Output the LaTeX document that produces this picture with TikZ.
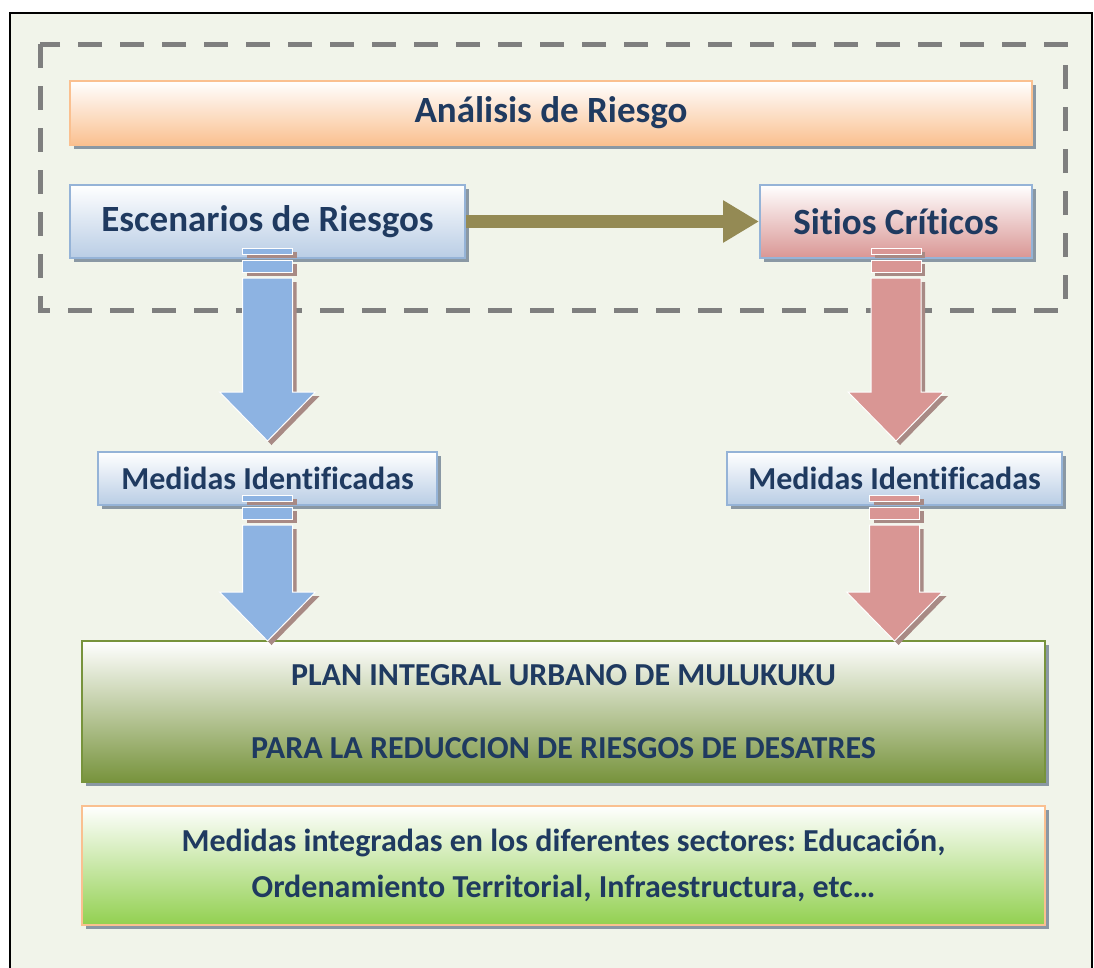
\documentclass[tikz,border=0pt]{standalone}
\usepackage{fontspec}
\setmainfont{Carlito}[Ligatures=NoCommon]
\usetikzlibrary{calc,shadows,arrows.meta}
\definecolor{pagebg}{HTML}{F1F4EA}
\definecolor{dashgray}{HTML}{7F7F7F}
\definecolor{txtblue}{HTML}{1F3A60}
\definecolor{orangebox}{HTML}{FAC090}
\definecolor{bluebox}{HTML}{B9CDE5}
\definecolor{blueedge}{HTML}{95B3D7}
\definecolor{pinkbox}{HTML}{D99694}
\definecolor{oliveline}{HTML}{948A54}
\definecolor{bluearrow}{HTML}{8DB3E2}
\definecolor{arrowshadow}{HTML}{A88A85}
\definecolor{boxshadow}{HTML}{8A98A4}
\definecolor{planedge}{HTML}{77933C}
\definecolor{greenbox}{HTML}{92D050}
\frenchspacing

% body of one block arrow, from node #1 down to the tip (T)
\newcommand{\arrowbody}[2]{%
\filldraw[#2] ($(#1.south)+(-25,-11)$) rectangle ($(#1.south)+(25,-5)$);
\filldraw[#2] ($(#1.south)+(-25,1)$) rectangle ($(#1.south)+(25,13)$);
\filldraw[#2] ($(#1.south)+(-25,19)$) -- ($(T)+(-25,-49)$) -- ($(T)+(-48,-49)$) -- (T)
  -- ($(T)+(48,-49)$) -- ($(T)+(25,-49)$) -- ($(#1.south)+(25,19)$) -- cycle;
}
% from, to, tip offset, colour
\newcommand{\bigarrow}[4]{%
\coordinate (T) at ($(#1.south |- #2.north)+(0,#3)$);
\begin{scope}[transform canvas={xshift=4pt,yshift=-4pt}]
\arrowbody{#1}{fill=arrowshadow,draw=none}
\end{scope}
\arrowbody{#1}{fill=#4,draw=white,line width=1}
}

\begin{document}
\begin{tikzpicture}[x=1pt,y=-1pt]
\tikzstyle{box}=[draw, line width=2, inner sep=0, align=center, text=txtblue,
  font=\bfseries, drop shadow={shadow xshift=4pt, shadow yshift=-4pt, fill=boxshadow, opacity=1}];
\tikzstyle{bigfont}=[font=\fontsize{37}{42}\selectfont\bfseries];
\tikzstyle{midfont}=[font=\fontsize{32}{36}\selectfont\bfseries];
\useasboundingbox (0,0) rectangle (1094,967);
\draw[line width=2, fill=pagebg] (10,13) rectangle (1092,990);
\draw[dashgray, line width=5, dash pattern=on 24pt off 18pt] (40,44) rectangle (1065,310);

\node [box, bigfont, draw=orangebox, top color=white, bottom color=orangebox,
  minimum width=962, minimum height=64] (ana) at (551,113) {Análisis de Riesgo};
\node [box, bigfont, draw=blueedge, top color=white, bottom color=bluebox,
  minimum width=395, minimum height=73] (esc) at (267.5,221.5) {Escenarios de Riesgos};
\node [box, bigfont, draw=blueedge, top color=white, bottom color=pinkbox,
  minimum width=272, minimum height=73] (sit) at (896,221.5) {Sitios Críticos};
\node [box, midfont, draw=blueedge, top color=white, bottom color=bluebox,
  minimum width=339, minimum height=53] (med1) at (267.5,478.5) {Medidas Identificadas};
\node [box, midfont, draw=blueedge, top color=white, bottom color=bluebox,
  minimum width=335, minimum height=53] (med2) at (894.5,478.5) {Medidas Identificadas};
\node [box, font=\fontsize{32}{73}\selectfont\bfseries, draw=planedge, top color=white,
  middle color=planedge!45!white, bottom color=planedge,
  minimum width=963, minimum height=141] (plan) at (563.5,711.5)
  {PLAN INTEGRAL URBANO DE MULUKUKU\\PARA LA REDUCCION DE RIESGOS DE DESATRES};
\node [box, font=\fontsize{32}{46}\selectfont\bfseries, draw=orangebox, top color=white,
  bottom color=greenbox, minimum width=963, minimum height=119] (sect) at (563.5,865.5)
  {Medidas integradas en los diferentes sectores: Educación,\\Ordenamiento Territorial, Infraestructura, etc…};

\draw[oliveline, line width=13, -{Triangle[length=36pt,width=40pt]}] (esc) -- (sit);
\bigarrow{esc}{med1}{-10}{bluearrow}
\bigarrow{sit}{med2}{-10}{pinkbox}
\bigarrow{med1}{plan}{1}{bluearrow}
\bigarrow{med2}{plan}{1}{pinkbox}
\end{tikzpicture}
\end{document}
